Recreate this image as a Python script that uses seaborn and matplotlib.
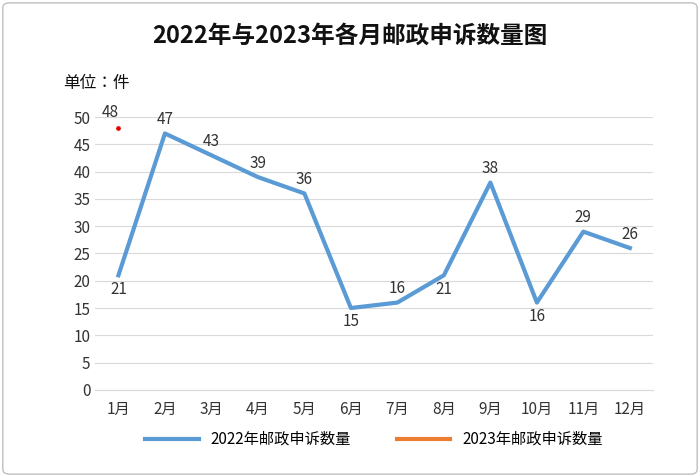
import matplotlib
matplotlib.use("Agg")
import matplotlib.pyplot as plt
import seaborn as sns
import pandas as pd
from matplotlib.patches import FancyBboxPatch
from matplotlib import font_manager

cjk = [f.name for f in font_manager.fontManager.ttflist if 'CJK' in f.name]
plt.rcParams['font.family'] = 'sans-serif'
plt.rcParams['font.sans-serif'] = ['Noto Sans CJK SC', 'Noto Sans CJK JP'] + cjk + ['DejaVu Sans']

months = ['1月', '2月', '3月', '4月', '5月', '6月', '7月', '8月', '9月', '10月', '11月', '12月']
values_2022 = [21, 47, 43, 39, 36, 15, 16, 21, 38, 16, 29, 26]
months_2023 = ['1月']
values_2023 = [48]

df22 = pd.DataFrame({'month': months, 'value': values_2022})
df23 = pd.DataFrame({'month': months_2023, 'value': values_2023})

fig = plt.figure(figsize=(7, 4.76), dpi=100)
fig.patches.append(FancyBboxPatch((0.004, 0.004), 0.992, 0.99, boxstyle='round,pad=0,rounding_size=0.01',
                                  transform=fig.transFigure, fill=False, edgecolor='#bfbfbf', lw=1))
ax = fig.add_axes([0.136, 0.181, 0.797, 0.573])

sns.lineplot(data=df22, x='month', y='value', ax=ax, color='#5b9bd5', lw=3,
             label='2022年邮政申诉数量', sort=False)
ax.plot([], [], color='#ed7d31', lw=3, label='2023年邮政申诉数量')
sns.scatterplot(data=df23, x='month', y='value', ax=ax, color='#e00000', s=14, zorder=5, legend=False)

# data labels
offsets = [-1, 1, 1, 1, 1, -1, 1, -1, 1, -1, 1, 1]
for i, (m, v) in enumerate(zip(months, values_2022)):
    ax.annotate(str(v), (i, v), textcoords='offset points', xytext=(0, 10 * offsets[i]),
                ha='center', va='center', fontsize=11, color='#333333')
for m, v in zip(months_2023, values_2023):
    ax.annotate(str(v), (months.index(m), v), textcoords='offset points', xytext=(-6, 11),
                ha='center', va='center', fontsize=11, color='#333333')

ax.set_xlim(-0.5, 11.5)
ax.set_ylim(0, 50)
ax.set_yticks(range(0, 51, 5))
ax.grid(axis='y', color='#d9d9d9', lw=0.8)
ax.set_axisbelow(True)
for s in ['top', 'right', 'left']:
    ax.spines[s].set_visible(False)
ax.spines['bottom'].set_color('#d9d9d9')
ax.tick_params(length=0, labelsize=11, colors='#333333')
ax.tick_params(axis='x', pad=8)
ax.set_xlabel('')
ax.set_ylabel('')

fig.text(0.5, 0.925, '2022年与2023年各月邮政申诉数量图', ha='center', va='center',
         fontsize=17, fontweight='bold', color='#111111')
fig.text(0.09, 0.825, '单位：件', ha='left', va='center', fontsize=12, color='#111111')

ax.legend(loc='upper center', bbox_to_anchor=(0.5, -0.1), ncol=2, frameon=False,
          fontsize=11, handlelength=3.5, columnspacing=3)

fig.savefig('out.png', dpi=100)
